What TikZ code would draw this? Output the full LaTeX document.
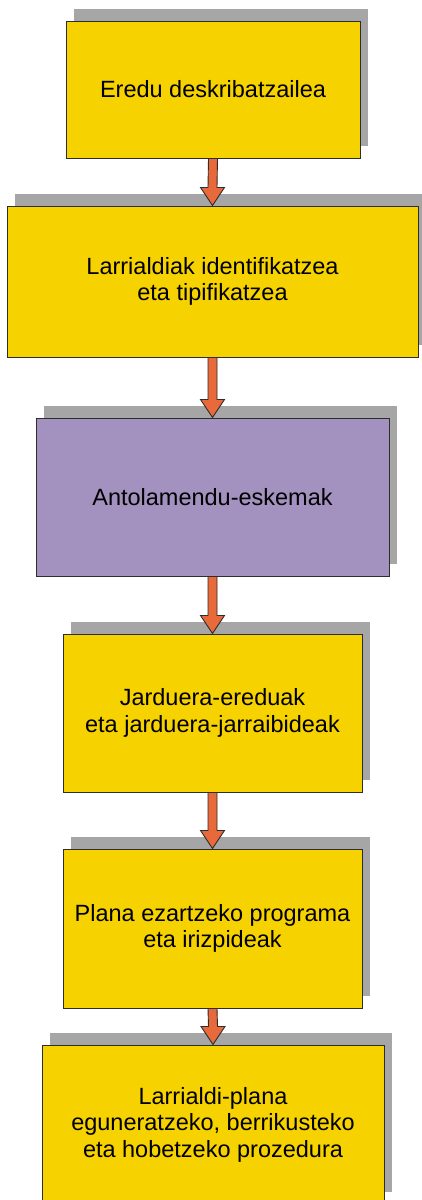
\documentclass[tikz,border=0pt]{standalone}
\usepackage{fontspec}
\setmainfont{Liberation Sans}
\usepackage{tikz}
\usetikzlibrary{calc,shadows}

\definecolor{boxyellow}{RGB}{245,210,0}
\definecolor{boxpurple}{RGB}{163,145,192}
\definecolor{shadowgray}{RGB}{166,166,166}
\definecolor{arroworange}{RGB}{232,105,58}
\definecolor{edgegray}{RGB}{45,45,45}

\begin{document}
\begin{tikzpicture}[x=1pt, y=-1pt,
  box/.style = {shape=rectangle, draw=edgegray, line width=1pt, fill=boxyellow,
    align=center, inner sep=0pt, font=\fontsize{23.5}{26.5}\selectfont,
    drop shadow={shadow xshift=8pt, shadow yshift=12pt, fill=shadowgray, opacity=1}},
  flow/.style = {draw=edgegray, line width=0.9pt, fill=arroworange, line join=miter}]
  \useasboundingbox (0,0) rectangle (422,1200);

  \node[box, minimum width=294pt, minimum height=137pt] (model) at (213,89.5)
    {Eredu deskribatzailea};
  \node[box, minimum width=411pt, minimum height=151pt] (types) at (212.5,281.5)
    {Larrialdiak identifikatzea\\eta tipifikatzea};
  \node[box, fill=boxpurple, minimum width=353pt, minimum height=158pt] (schemes) at (212.5,497)
    {Antolamendu-eskemak};
  \node[box, minimum width=299pt, minimum height=158pt] (actions) at (212.5,713)
    {Jarduera-ereduak\\eta jarduera-jarraibideak};
  \node[box, minimum width=299pt, minimum height=159pt] (program) at (212.5,928.5)
    {Plana ezartzeko programa\\eta irizpideak};
  \node[box, minimum width=342pt, minimum height=159pt] (update) at (213,1124.5)
    {Larrialdi-plana\\eguneratzeko, berrikusteko\\eta hobetzeko prozedura};

  % block arrows between the boxes
  \foreach \from/\to in {model/types, types/schemes, schemes/actions,
                         actions/program, program/update}
    \draw[flow] ($(\from.south)+(-4.5,0)$) -- ($(\to.north)+(-4.5,-18)$)
      -- ($(\to.north)+(-12,-18)$) -- (\to.north) -- ($(\to.north)+(12,-18)$)
      -- ($(\to.north)+(4.5,-18)$) -- ($(\from.south)+(4.5,0)$) -- cycle;
\end{tikzpicture}
\end{document}
